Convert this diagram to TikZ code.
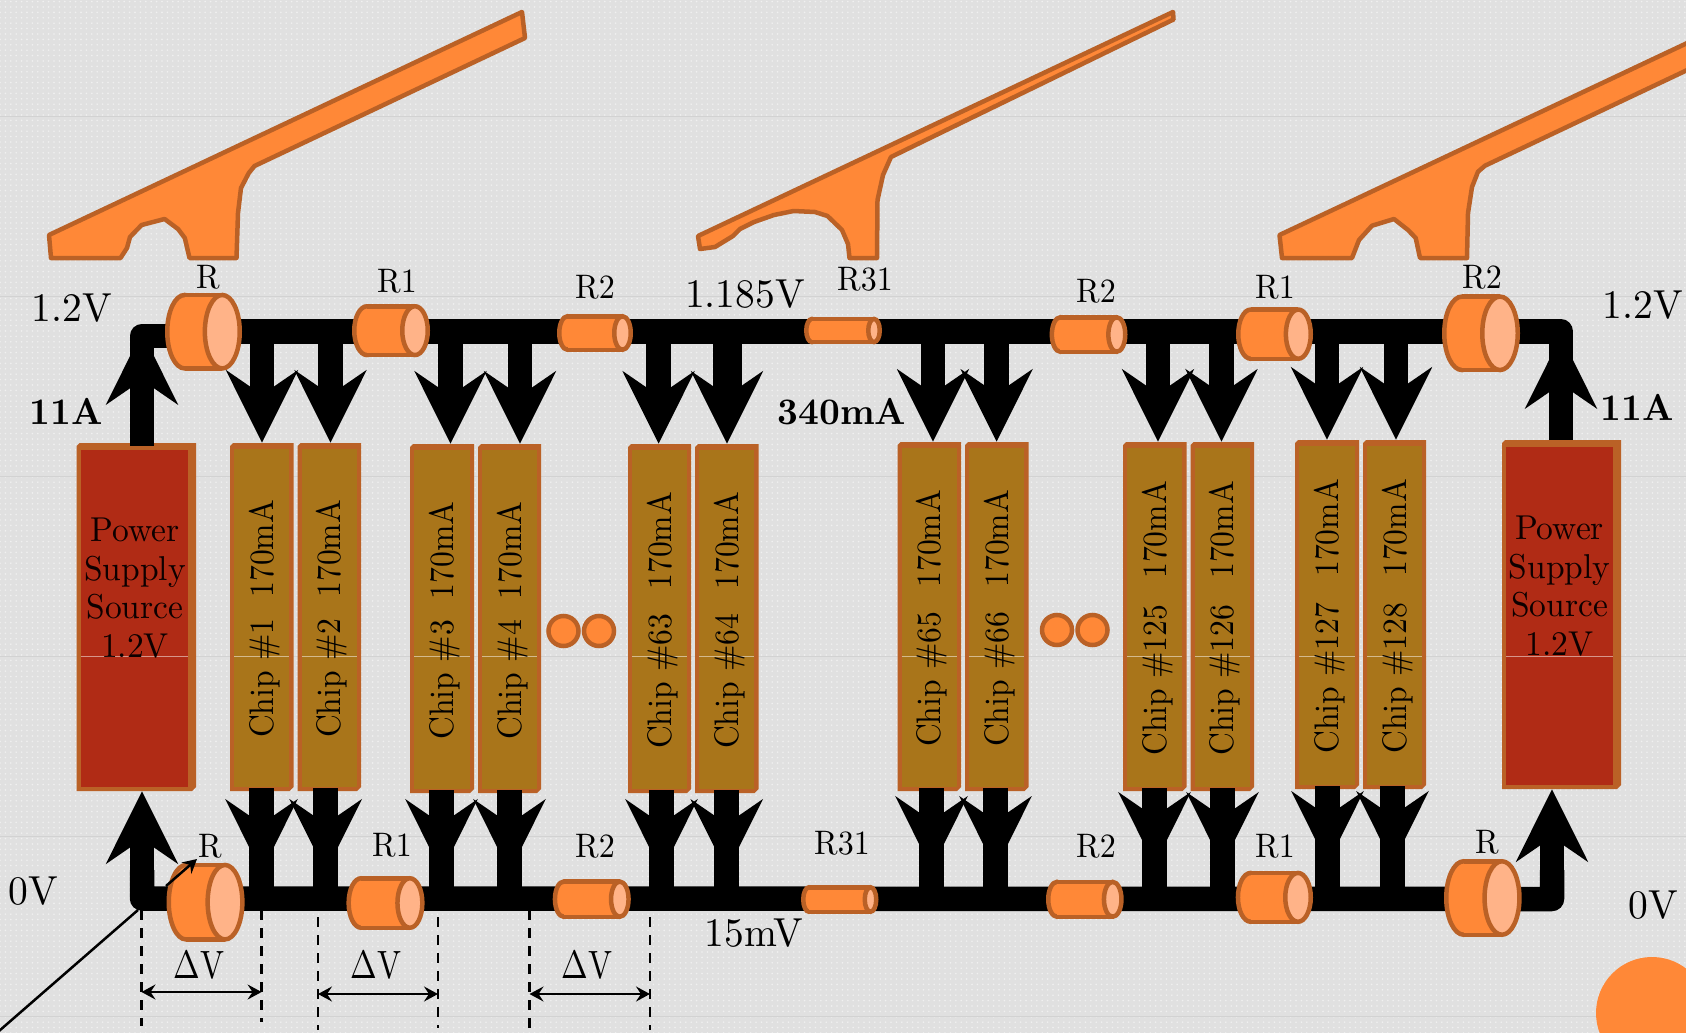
\documentclass[tikz,border=0pt]{standalone}
\usepackage{graphicx}
\usetikzlibrary{arrows.meta,patterns,calc}
\definecolor{bgc}{HTML}{E0E0E0}
\definecolor{bgdot}{HTML}{F0F0F0}
\definecolor{bgline}{HTML}{D2D2D2}
\definecolor{org}{HTML}{FF8837}
\definecolor{brd}{HTML}{BA6126}
\definecolor{lite}{HTML}{FFB388}
\definecolor{chipc}{HTML}{A9751A}
\definecolor{pwrc}{HTML}{B02B15}
\pgfdeclarepatternformonly{bgdots}{\pgfqpoint{-1pt}{-1pt}}{\pgfqpoint{1pt}{1pt}}{\pgfqpoint{5.4pt}{5.4pt}}{\pgfpathcircle{\pgfqpoint{0pt}{0pt}}{0.9pt}\pgfusepath{fill}}
\newcommand{\sml}[1]{\scalebox{3.2}[3.4]{#1}}
\newcommand{\lrg}[1]{\scalebox{3.95}[4.05]{#1}}
\newcommand{\bld}[1]{\scalebox{3.62}[3.75]{#1}}
\newcommand{\dlt}[1]{\scalebox{3.2}[3.95]{#1}}
\newcommand{\pwrtext}{\scalebox{3.35}[3.45]{\renewcommand{\arraystretch}{.93}\begin{tabular}{@{}c@{}}Power\\Supply\\Source\\1.2V\end{tabular}}}
\newcommand{\chiptext}[1]{\rotatebox{90}{\raisebox{-11.6pt}[0pt][0pt]{\scalebox{3.16}[3.4]{#1}\hspace{4pt}}}}
\tikzset{
  gusset/.style={fill=org,draw=brd,line width=4.5pt,line join=round},
  bus/.style={line width=24.5pt,black,line cap=butt,line join=round},
  pow/.style={line width=24.5pt,black,-{Stealth[length=72pt,width=71pt,inset=24pt]}},
  shaft/.style={line width=24.5pt,black},
  lab/.style={inner sep=0pt,font=\fontsize{10}{12}\selectfont},
  bigb/.style={inner sep=0pt,font=\fontsize{10}{12}\selectfont\bfseries},
  boxlab/.style={inner sep=0pt,font=\fontsize{10}{12}\selectfont},
  pwrtxt/.style={inner sep=0pt,text=black!95!red,font=\fontsize{10}{12}\selectfont},
  dotc/.style={circle,fill=org,draw=brd,line width=4.5pt,minimum size=30pt,inner sep=0pt},
  dashv/.style={line width=2.5pt,dash pattern=on 10pt off 8pt},
  dimv/.style={line width=2.5pt,{Stealth[length=14pt,width=15pt,inset=5pt]}-{Stealth[length=14pt,width=15pt,inset=5pt]}},
}
\newcommand{\cyl}[6]{%
  \pgfmathsetmacro{\cxa}{#2+#6}\pgfmathsetmacro{\cxb}{#3-#6}%
  \pgfmathsetmacro{\cya}{#4+2.25}\pgfmathsetmacro{\cyb}{#5-2.25}%
  \pgfmathsetmacro{\cym}{(#4+#5)/2}\pgfmathsetmacro{\cry}{(#5-#4)/2-2.25}\pgfmathsetmacro{\crx}{#6-2.25}%
  \draw[fill=org,draw=brd,line width=4.5pt] (\cxa,\cym) ellipse [x radius=\crx,y radius=\cry];
  \fill[org] (\cxa,\cya) rectangle (\cxb,\cyb);
  \draw[brd,line width=4.5pt] (\cxa,\cya) -- (\cxb,\cya) (\cxa,\cyb) -- (\cxb,\cyb);
  \draw[fill=lite,draw=brd,line width=4.5pt] (\cxb,\cym) ellipse [x radius=\crx,y radius=\cry];
  \coordinate (#1) at ({(#2+#3)/2},\cym);
}
\newcommand{\boxbase}[9]{%
  % name, xl, xr, yt, yb, fill colour, right inset, top inset, text
  \fill[brd] ({#2+3},#4) -- (#3,#4) -- (#3,{#5-4}) -- ({#3-4},#5) -- (#2,#5) -- (#2,{#4+3}) -- cycle;
  \fill[#6] ({#2+4},{#4+#8}) rectangle ({#3-#7},{#5-4.5});
  \draw[white!50!#6,line width=.6pt] ({#2+4},656) -- ({#3-#7},656);
  \node[boxlab,minimum width={#3-#2},minimum height={#5-#4}] (#1) at ({(#2+#3)/2},{(#4+#5)/2}) {#9};
}
\newcommand{\chip}[6]{\boxbase{#1}{#2}{#3}{#4}{#5}{chipc}{4.5}{6}{\chiptext{#6}}}
\newcommand{\feedin}[3][24.5]{% chip, x of arrow, line width option
  \coordinate (#2top) at (#3,331.5);
  \draw[pow,line width=#1pt] (#2top) -- (#2top |- #2.north);
}
\newcommand{\feedout}[3]{% chip, x, barb y
  \pgfmathsetmacro{\tipy}{#3+74}
  \coordinate (#1bus) at (#2,899);
  \coordinate (#1tip) at (#2,\tipy);
  \draw[pow] (#1.south -| #1bus) -- (#1tip);
  \draw[shaft] ($(#1.south -| #1bus)+(0,-3)$) -- (#1bus);
}
\begin{document}
\begin{tikzpicture}[x=1pt,y=-1pt]
\useasboundingbox (0,0) rectangle (1686,1033);
\fill[bgc] (0,0) rectangle (1686,1033);
\fill[pattern=bgdots,pattern color=bgdot] (0,0) rectangle (1686,1033);
\foreach \yy in {116,296,476,656,836,1016} \draw[bgline,line width=.8pt] (0,\yy) -- (1686,\yy);
% orange corner disc
\fill[org] (1652,1013) circle [radius=56];
% gussets
\draw[gusset] (49,235)--(522,12)--(525,38)--(254.5,166)--(248.8,173)--(241,188)--(238,213)--(236.5,258)--(189.5,258)--(184.8,238)--(178,229)--(164.6,219)--(141.6,225)--(130,237)--(127,248)--(120.5,258)--(51,258)--cycle;
\draw[gusset] (698,236)--(1173,12)--(1173.5,19.5)--(891,157)--(883,175)--(877.5,200)--(877,258)--(849.5,258)--(848,244)--(842,230)--(827.5,216)--(815,212)--(793.6,211)--(774,215)--(754,222)--(740,229)--(733,236)--(715,247)--(700,249)--cycle;
\begin{scope}
\clip (0,0) rectangle (1686,1033);
\draw[gusset] (1279.5,235)--(1700,37)--(1700,64)--(1485,165.7)--(1478,171.7)--(1472,187)--(1468,213)--(1467,258)--(1420,258)--(1415.7,238)--(1408,230)--(1394,219)--(1372,225.7)--(1359,240)--(1352,258)--(1282,258)--cycle;
\end{scope}
% power boxes
\boxbase{pl}{76.5}{196}{443}{791}{pwrc}{8.5}{7}{}
\boxbase{pr}{1502}{1621}{440}{789}{pwrc}{8.5}{7}{}
% chips
\chip{c1}{230}{293.5}{443}{791}{Chip \#1\ \ 170mA}
\chip{c2}{297.5}{361}{443}{791}{Chip \#2\ \ 170mA}
\chip{c3}{410}{474}{444}{793}{Chip \#3\ \ 170mA}
\chip{c4}{478}{541}{444}{793}{Chip \#4\ \ 170mA}
\chip{c63}{628}{691}{444}{793}{Chip \#63\hspace{1pt}\ \ 170mA}
\chip{c64}{695}{758.5}{444}{793}{Chip \#64\hspace{1pt}\ \ 170mA}
\chip{c65}{897.5}{961}{442}{791}{Chip \#65\hspace{1pt}\ \ 170mA}
\chip{c66}{965}{1028.5}{442}{791}{Chip \#66\hspace{1pt}\ \ 170mA}
\chip{c125}{1123}{1186.5}{442}{791}{Chip \#125\hspace{1.6pt}\ \ 170mA}
\chip{c126}{1190.5}{1254}{442}{791}{Chip \#126\hspace{1.6pt}\ \ 170mA}
\chip{c127}{1295}{1359}{440}{789}{Chip \#127\hspace{1.6pt}\ \ 170mA}
\chip{c128}{1363}{1426}{440}{789}{Chip \#128\hspace{1.6pt}\ \ 170mA}
% supply rails
\coordinate (tl) at (142,336);
\coordinate (tm) at (240,331.5);
\coordinate (tr) at (1561,331.5);
\coordinate (bl) at (142,898.5);
\coordinate (br) at (1552,899);
\draw[bus] (142,360) -- (tl) -- (200,336);
\draw[bus] (tm) -- (tr) -- (1561,360);
\draw[bus] (142,870) -- (bl) -- (br) -- (1552,870);
% feed arrows
\feedin{c1}{262}
\feedin{c2}{330.5}
\feedin{c3}{450.5}
\feedin{c4}{520}
\feedin{c63}{658.6}
\feedin[29]{c64}{727}
\feedin{c65}{933}
\feedin{c66}{996.6}
\feedin{c125}{1158}
\feedin{c126}{1221.5}
\feedin{c127}{1327}
\feedin{c128}{1396}
\feedout{c1}{261.5}{798}
\feedout{c2}{325.7}{798}
\feedout{c3}{441.5}{798}
\feedout{c4}{509.5}{798}
\feedout{c63}{661.5}{798}
\feedout{c64}{726.7}{798}
\feedout{c65}{931.5}{795}
\feedout{c66}{995.5}{795}
\feedout{c125}{1154.5}{791}
\feedout{c126}{1222.5}{791}
\feedout{c127}{1327.5}{790}
\feedout{c128}{1392.5}{790}
% source arrows
\draw[pow] (tl |- pl.north) ++(0,3) -- (142,332);
\draw[pow] (tr |- pr.north) -- (1561,336);
\draw[pow] (bl) -- (bl |- pl.south);
\draw[pow] (br) -- (br |- pr.south);
% resistors
\cyl{rt1}{165}{242}{292.7}{370.7}{19.7}
\cyl{rt2}{352}{430}{304}{357.3}{15}
\cyl{rt3}{557}{633}{314}{352}{10.5}
\cyl{rt4}{804}{882}{316.7}{344.3}{8}
\cyl{rt5}{1049.6}{1127.5}{315}{354}{10.7}
\cyl{rt6}{1236}{1313}{307.3}{361}{14.7}
\cyl{rt7}{1442}{1520}{294.3}{372.3}{20}
\cyl{rb1}{166.5}{244.6}{862.7}{941.7}{19.6}
\cyl{rb2}{346.4}{424.6}{876}{930}{14.7}
\cyl{rb3}{552.7}{630.8}{879.3}{919}{11}
\cyl{rb4}{801}{878.5}{885}{914}{8}
\cyl{rb5}{1046}{1123.7}{879.6}{919}{11}
\cyl{rb6}{1235.7}{1313}{870.7}{924}{15}
\cyl{rb7}{1444}{1521.7}{859}{937}{19.7}
% dots
\node[dotc] (d1) at (563.5,631) {};
\node[dotc] (d2) at (599,631) {};
\node[dotc] (d3) at (1057,630) {};
\node[dotc] (d4) at (1092.5,630) {};
% resistor labels
\node[lab] (l1) at (208,277) {\sml{R}};
\node[lab] (l2) at (397,281) {\sml{R1}};
\node[lab] (l3) at (595,287) {\sml{R2}};
\node[lab] (l4) at (865,279) {\sml{R31}};
\node[lab] (l5) at (1096,291) {\sml{R2}};
\node[lab] (l6) at (1275,287) {\sml{R1}};
\node[lab] (l7) at (1482,277) {\sml{R2}};
\node[lab] (l8) at (210,846) {\sml{R}};
\node[lab] (l9) at (392,845) {\sml{R1}};
\node[lab] (l10) at (595,846) {\sml{R2}};
\node[lab] (l11) at (842,843) {\sml{R31}};
\node[lab] (l12) at (1096,846) {\sml{R2}};
\node[lab] (l13) at (1275,846) {\sml{R1}};
\node[lab] (l14) at (1487,842) {\sml{R}};
% voltage labels
\node[lab] (v1) at (71.6,308) {\lrg{1.2V}};
\node[lab] (v2) at (1643,305) {\lrg{1.2V}};
\node[lab] (v3) at (745,294) {\lrg{1.185V}};
\node[lab] (v4) at (33,891) {\lrg{0V}};
\node[lab] (v5) at (1653,905) {\lrg{0V}};
\node[lab] (v6) at (754,933) {\lrg{15mV}};
\node[bigb] (i1) at (66,411) {\bld{11A}};
\node[bigb] (i2) at (1637,407) {\bld{11A}};
\node[bigb] (i3) at (842,412) {\bld{340mA}};
% supply text
\node[pwrtxt] (s1) at (135,592) {\pwrtext};
\node[pwrtxt] (s2) at (1559.5,590) {\pwrtext};
% delta-V marks
\coordinate (a1) at (141.5,910); \coordinate (a2) at (261.6,910);
\coordinate (a3) at (318,917);   \coordinate (a4) at (438,917);
\coordinate (a5) at (529.5,910); \coordinate (a6) at (650,917);
\draw[dashv] (a1) -- ++(0,116);
\draw[dashv] (a2) -- ++(0,112);
\draw[dashv] (a3) -- ++(0,113);
\draw[dashv] (a4) -- ++(0,111);
\draw[dashv] (a5) -- ++(0,120);
\draw[dashv] (a6) -- ++(0,113);
\draw[dimv] ($(a1)+(0,82)$) -- ($(a2)+(0,82)$);
\draw[dimv] ($(a3)+(0,77)$) -- ($(a4)+(0,77)$);
\draw[dimv] ($(a5)+(0,84)$) -- ($(a6)+(0,77)$);
\node[lab] (dv1) at (199,965) {\dlt{Δ{}V}};
\node[lab] (dv2) at (376,965) {\dlt{Δ{}V}};
\node[lab] (dv3) at (587,965) {\dlt{Δ{}V}};
% leader lines
\coordinate (ld) at (-1,1031);
\draw[line width=2.5pt] (138,910) -- (ld);
\coordinate (sa) at (166,886); \coordinate (sb) at (197,859);
\draw[line width=2.5pt,-{Stealth[length=14pt,width=15pt,inset=5pt]}] (sa) -- (sb);
\end{tikzpicture}
\end{document}
